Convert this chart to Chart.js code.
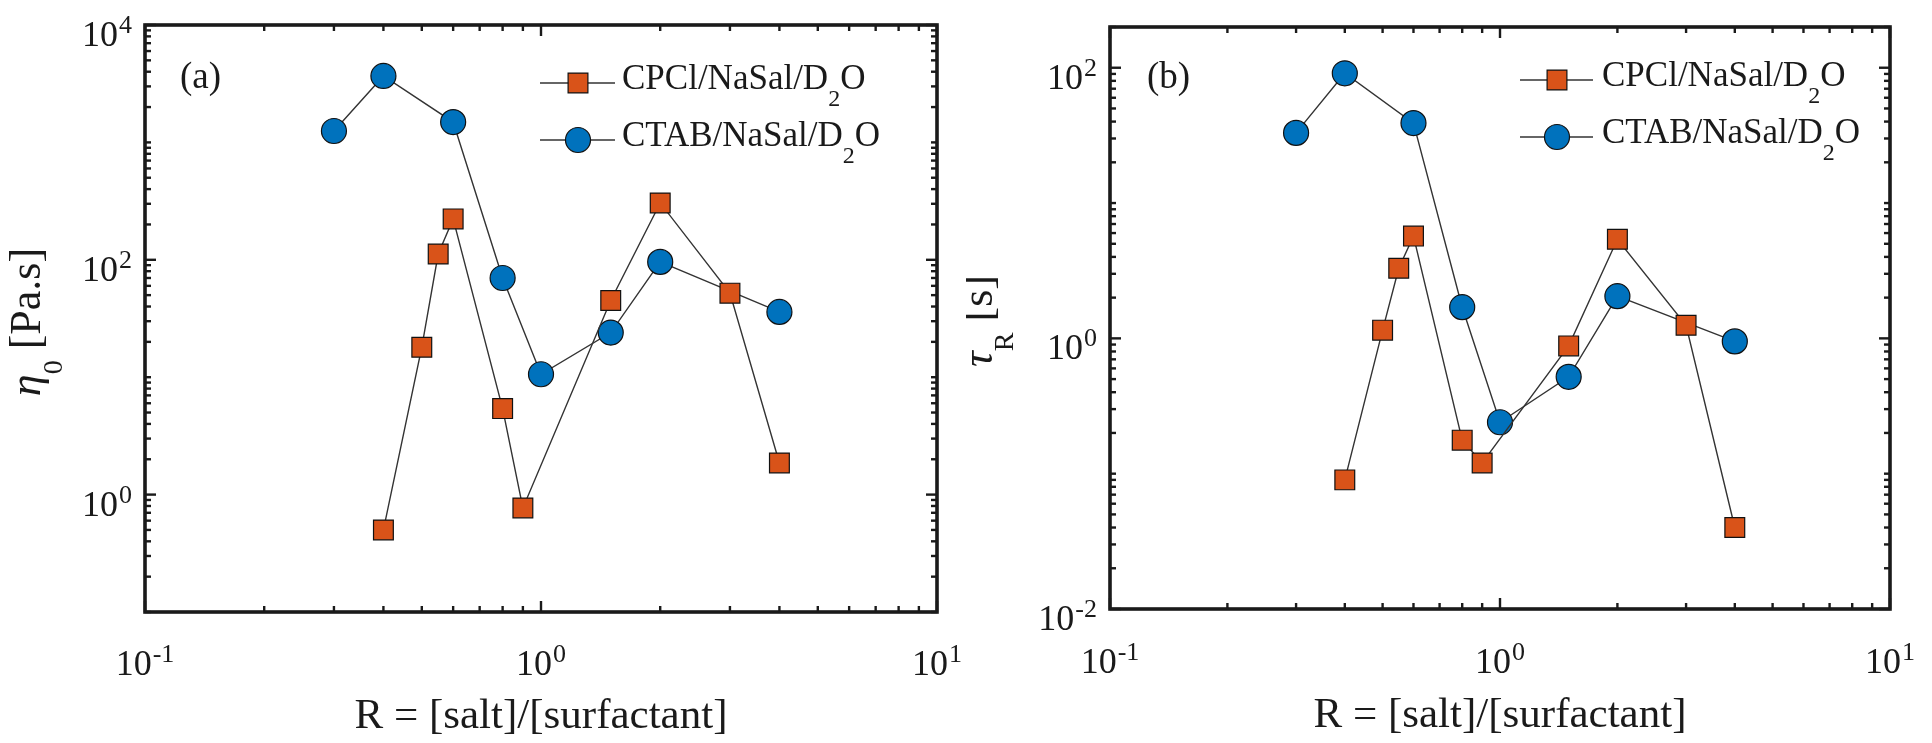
<!DOCTYPE html>
<html><head><meta charset="utf-8">
<script src="https://cdn.jsdelivr.net/npm/chart.js@4.4.0/dist/chart.umd.min.js"></script>
<style>
html,body{margin:0;padding:0;background:#fff;}
#wrap{position:relative;width:1932px;height:743px;overflow:hidden;}
.cv{position:absolute;top:0;width:966px;height:743px;}
</style></head><body>
<div id="wrap">
<div class="cv" style="left:0"><canvas id="ca" width="966" height="743"></canvas></div>
<div class="cv" style="left:966px"><canvas id="cb" width="966" height="743"></canvas></div>
</div>
<script>
// ---- data ----
const seriesMain = ['CPCl/NaSal/D', 'CTAB/NaSal/D'];
const seriesSub = ['2', '2'];
const seriesTail = ['O', 'O'];
const cpclR   = [0.4, 0.5, 0.55, 0.6, 0.8, 0.9, 1.5, 2, 3, 4];
const cpclEta = [0.5, 18, 112, 223, 5.4, 0.77, 45, 305, 52, 1.86];
const cpclTau = [0.09, 1.15, 3.3, 5.7, 0.177, 0.12, 0.88, 5.4, 1.25, 0.04];
const ctabR   = [0.3, 0.4, 0.6, 0.8, 1.0, 1.5, 2, 4];
const ctabEta = [1250, 3680, 1490, 70, 10.6, 24, 96, 36];
const ctabTau = [33, 91, 39, 1.7, 0.24, 0.52, 2.05, 0.95];
const xTickExps = [-1, 0, 1];
const etaTickExps = [0, 2, 4];
const tauTickExps = [-2, 0, 2];
const xTitle = 'R = [salt]/[surfactant]';
const panelTags = ['(a)', '(b)'];

// ---- style ----
const FONT = '"Liberation Serif", "Times New Roman", serif';
const INK = '#1a1a1a';
const ORANGE = '#D95319', BLUE = '#0072BD';
const LINE = '#333333';

function pts(xs, ys){ return xs.map((x,i)=>({x:x, y:ys[i]})); }

const panels = [
  { id:'ca', cp:cpclEta, ct:ctabEta, yMin:0.1, yMax:1e4, yExps:etaTickExps,
    area:{left:145, top:25, right:937, bottom:612},
    yT:{main:'η', sub:'0', rest:' [Pa.s]', bx:40, cy:322, subDy:22},
    tag:panelTags[0], tagX:180,
    leg:{x0:540, x1:615, mx:578, tx:622, rows:[83,140]},
    xLabBase:675, titleBase:728 },
  { id:'cb', cp:cpclTau, ct:ctabTau, yMin:0.01, yMax:200, yExps:tauTickExps,
    area:{left:144, top:27, right:924, bottom:609},
    yT:{main:'τ', sub:'R', rest:' [s]', bx:26, cy:321, subDy:21},
    tag:panelTags[1], tagX:181,
    leg:{x0:554, x1:627, mx:591, tx:636, rows:[80,137]},
    xLabBase:673, titleBase:727 }
];

function drawMarker(ctx, style, x, y, r, fill){
  ctx.save();
  ctx.fillStyle = fill; ctx.strokeStyle = '#111'; ctx.lineWidth = 1.2;
  ctx.beginPath();
  if (style === 'rect'){ const s = Math.SQRT1_2 * r; ctx.rect(x-s, y-s, 2*s, 2*s); }
  else { ctx.arc(x, y, r, 0, Math.PI*2); }
  ctx.fill(); ctx.stroke();
  ctx.restore();
}

function drawPow(ctx, exp, x, yBase, align){
  const base = '36px ' + FONT, sup = '26px ' + FONT;
  ctx.font = base; const wb = ctx.measureText('10').width;
  ctx.font = sup; const we = ctx.measureText(String(exp)).width;
  const total = wb + 1 + we;
  let x0 = align === 'center' ? x - total/2 : (align === 'right' ? x - total : x);
  ctx.textAlign = 'left'; ctx.textBaseline = 'alphabetic';
  ctx.font = base; ctx.fillText('10', x0, yBase);
  ctx.font = sup; ctx.fillText(String(exp), x0 + wb + 1, yBase - 13);
}

function logTicks(min, max, majors, cb){
  const n0 = Math.floor(Math.log10(min) - 1e-9), n1 = Math.ceil(Math.log10(max) + 1e-9);
  for (let n = n0; n <= n1; n++) for (let k = 1; k <= 9; k++){
    const v = k * Math.pow(10, n);
    if (v < min*0.9999 || v > max*1.0001) continue;
    cb(v, k === 1 && majors.includes(n));
  }
}

function makePlugin(P){
  return {
    id: 'decor_' + P.id,
    afterDraw(chart){
      const ctx = chart.ctx, a = chart.chartArea, xs = chart.scales.x, ys = chart.scales.y;
      ctx.save();
      // ticks
      ctx.strokeStyle = INK; ctx.lineWidth = 2.4; ctx.lineCap = 'butt';
      const seg = (x1,y1,x2,y2)=>{ ctx.beginPath(); ctx.moveTo(x1,y1); ctx.lineTo(x2,y2); ctx.stroke(); };
      logTicks(xs.min, xs.max, xTickExps, (v, maj)=>{
        const p = xs.getPixelForValue(v), L = maj ? 11 : 6;
        seg(p, a.bottom, p, a.bottom - L); seg(p, a.top, p, a.top + L);
      });
      logTicks(ys.min, ys.max, P.yExps, (v, maj)=>{
        const p = ys.getPixelForValue(v), L = maj ? 11 : 6;
        seg(a.left, p, a.left + L, p); seg(a.right, p, a.right - L, p);
      });
      // frame
      ctx.lineWidth = 3.6;
      ctx.strokeRect(a.left, a.top, a.right - a.left, a.bottom - a.top);
      // tick labels
      ctx.fillStyle = INK;
      xTickExps.forEach(e=>{ drawPow(ctx, e, xs.getPixelForValue(Math.pow(10,e)), P.xLabBase, 'center'); });
      P.yExps.forEach(e=>{ drawPow(ctx, e, a.left - 13, ys.getPixelForValue(Math.pow(10,e)) + 21, 'right'); });
      // x title
      ctx.font = '43px ' + FONT; ctx.textAlign = 'center'; ctx.textBaseline = 'alphabetic';
      ctx.fillText(xTitle, (a.left + a.right)/2, P.titleBase);
      // y title (rotated)
      ctx.save();
      ctx.translate(P.yT.bx, P.yT.cy); ctx.rotate(-Math.PI/2);
      const fM = 'italic 44px ' + FONT, fS = '28px ' + FONT, fR = '44px ' + FONT;
      ctx.font = fM; const w1 = ctx.measureText(P.yT.main).width;
      ctx.font = fS; const w2 = ctx.measureText(P.yT.sub).width;
      ctx.font = fR; const w3 = ctx.measureText(P.yT.rest).width;
      let u = -(w1 + w2 + w3)/2;
      ctx.textAlign = 'left';
      ctx.font = fM; ctx.fillText(P.yT.main, u, 0); u += w1;
      ctx.font = fS; ctx.fillText(P.yT.sub, u, P.yT.subDy); u += w2;
      ctx.font = fR; ctx.fillText(P.yT.rest, u, 0);
      ctx.restore();
      // panel tag
      ctx.font = '37px ' + FONT; ctx.textAlign = 'left';
      ctx.fillText(P.tag, P.tagX, 88);
      // legend
      const ds = chart.data.datasets;
      ds.forEach((d, i)=>{
        const y = P.leg.rows[i];
        ctx.strokeStyle = LINE; ctx.lineWidth = 1.4;
        seg(P.leg.x0, y, P.leg.x1, y);
        drawMarker(ctx, d.pointStyle, P.leg.mx, y, d.pointRadius, d.pointBackgroundColor);
        ctx.fillStyle = INK;
        const bl = y + 6;
        ctx.font = '35px ' + FONT; ctx.fillText(seriesMain[i], P.leg.tx, bl);
        let x = P.leg.tx + ctx.measureText(seriesMain[i]).width;
        ctx.font = '24px ' + FONT; ctx.fillText(seriesSub[i], x, bl + 17);
        x += ctx.measureText(seriesSub[i]).width;
        ctx.font = '35px ' + FONT; ctx.fillText(seriesTail[i], x, bl);
      });
      ctx.restore();
    }
  };
}

panels.forEach(P=>{
  const W = 966, H = 743;
  new Chart(document.getElementById(P.id), {
    type: 'line',
    data: { datasets: [
      { label: seriesMain[0] + seriesSub[0] + seriesTail[0], data: pts(cpclR, P.cp),
        borderColor: LINE, borderWidth: 1.4, pointStyle: 'rect', pointRadius: 14,
        pointBackgroundColor: ORANGE, pointBorderColor: '#111', pointBorderWidth: 1.2, tension: 0 },
      { label: seriesMain[1] + seriesSub[1] + seriesTail[1], data: pts(ctabR, P.ct),
        borderColor: LINE, borderWidth: 1.4, pointStyle: 'circle', pointRadius: 12.5,
        pointBackgroundColor: BLUE, pointBorderColor: '#111', pointBorderWidth: 1.2, tension: 0 }
    ]},
    options: {
      responsive: false, animation: false, devicePixelRatio: 1,
      layout: { padding: { top: P.area.top, right: W - P.area.right, left: 0, bottom: 0 } },
      plugins: { legend: { display: false }, tooltip: { enabled: false } },
      scales: {
        x: { type: 'logarithmic', min: 0.1, max: 10, grid: { display: false }, border: { display: false },
             ticks: { display: false }, afterFit(s){ s.height = H - P.area.bottom; } },
        y: { type: 'logarithmic', min: P.yMin, max: P.yMax, grid: { display: false }, border: { display: false },
             ticks: { display: false }, afterFit(s){ s.width = P.area.left; } }
      }
    },
    plugins: [makePlugin(P)]
  });
});
</script>
</body></html>
